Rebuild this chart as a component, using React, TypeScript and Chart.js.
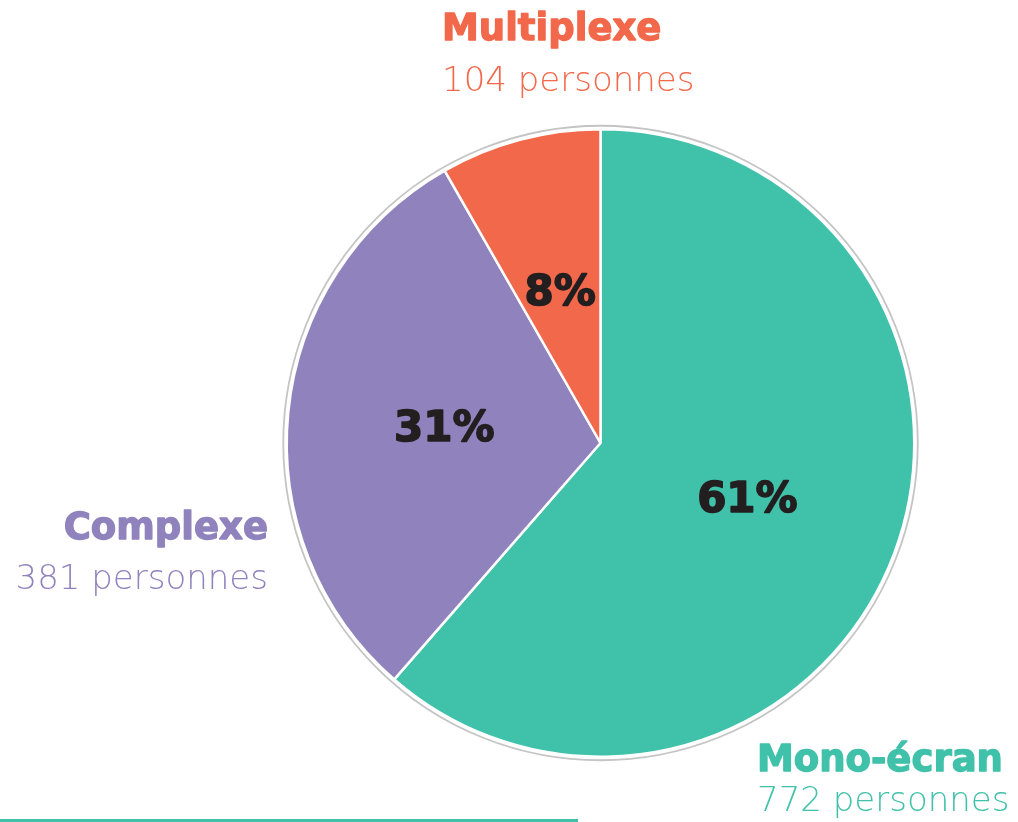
import React, { useEffect, useRef } from "react";
import { Chart, registerables } from "chart.js";

Chart.register(...registerables);

const categories = ["Mono-écran", "Complexe", "Multiplexe"];
const counts = [772, 381, 104];
const percentLabels = ["61%", "31%", "8%"];
const countLabels = ["772 personnes", "381 personnes", "104 personnes"];
const colors = ["#40C1A9", "#9083BD", "#F2684A"];

const FONT = '"DejaVu Sans", "Noto Sans", sans-serif';

function heavyText(ctx: any, text: string, x: number, y: number, w: number) {
  ctx.fillText(text, x, y);
  ctx.lineWidth = w;
  ctx.lineJoin = "round";
  ctx.strokeStyle = ctx.fillStyle;
  ctx.strokeText(text, x, y);
}

const labelPlugin = {
  id: "pieLabels",
  beforeDatasetsDraw(chart: any) {
    const meta = chart.getDatasetMeta(0);
    const arc = meta.data[0];
    if (!arc) return;
    const { x, y, outerRadius } = arc.getProps(["x", "y", "outerRadius"], true);
    const ctx = chart.ctx;
    ctx.save();
    ctx.beginPath();
    ctx.arc(x, y, outerRadius + 3.5, 0, Math.PI * 2);
    ctx.strokeStyle = "#c4c4c4";
    ctx.lineWidth = 1.8;
    ctx.stroke();
    ctx.restore();
  },
  afterDatasetsDraw(chart: any) {
    const ctx = chart.ctx;
    const meta = chart.getDatasetMeta(0);
    ctx.save();
    // percentages inside slices
    ctx.font = `bold 42px ${FONT}`;
    ctx.fillStyle = "#231f20";
    ctx.textAlign = "center";
    ctx.textBaseline = "middle";
    meta.data.forEach((el: any, i: number) => {
      const p = el.tooltipPosition(true);
      heavyText(ctx, percentLabels[i], p.x, p.y + 3, 1.6);
    });
    // outside labels
    const layout = [
      { x: 757, nameY: 771, countY: 811, align: "left" },
      { x: 268, nameY: 539, countY: 589, align: "right" },
      { x: 442, nameY: 40, countY: 91, align: "left" },
    ];
    ctx.textBaseline = "alphabetic";
    categories.forEach((name, i) => {
      const l = layout[i];
      ctx.textAlign = l.align;
      ctx.fillStyle = colors[i];
      ctx.font = `bold 37px ${FONT}`;
      heavyText(ctx, name, l.x, l.nameY, 1.3);
      ctx.font = `200 34px ${FONT}`;
      ctx.fillText(countLabels[i], l.x, l.countY);
    });
    // bottom rule
    ctx.fillStyle = colors[0];
    ctx.fillRect(0, 819, 578, 3);
    ctx.restore();
  },
};

export default function App() {
  const ref = useRef<HTMLCanvasElement | null>(null);
  useEffect(() => {
    if (!ref.current) return;
    const chart = new Chart(ref.current, {
      type: "pie",
      data: {
        labels: categories,
        datasets: [
          {
            data: counts,
            backgroundColor: colors,
            borderColor: "#ffffff",
            borderWidth: 2.5,
          },
        ],
      },
      options: {
        responsive: false,
        animation: false,
        devicePixelRatio: 1,
        layout: {
          padding: { left: 285, top: 128, right: 102, bottom: 64 },
        },
        plugins: {
          legend: { display: false },
          tooltip: { enabled: false },
        },
      },
      plugins: [labelPlugin],
    });
    return () => chart.destroy();
  }, []);
  return (
    <div style={{ position: "fixed", left: 0, top: 0, width: 1018, height: 822, background: "#fff" }}>
      <canvas ref={ref} width={1018} height={822} />
    </div>
  );
}
